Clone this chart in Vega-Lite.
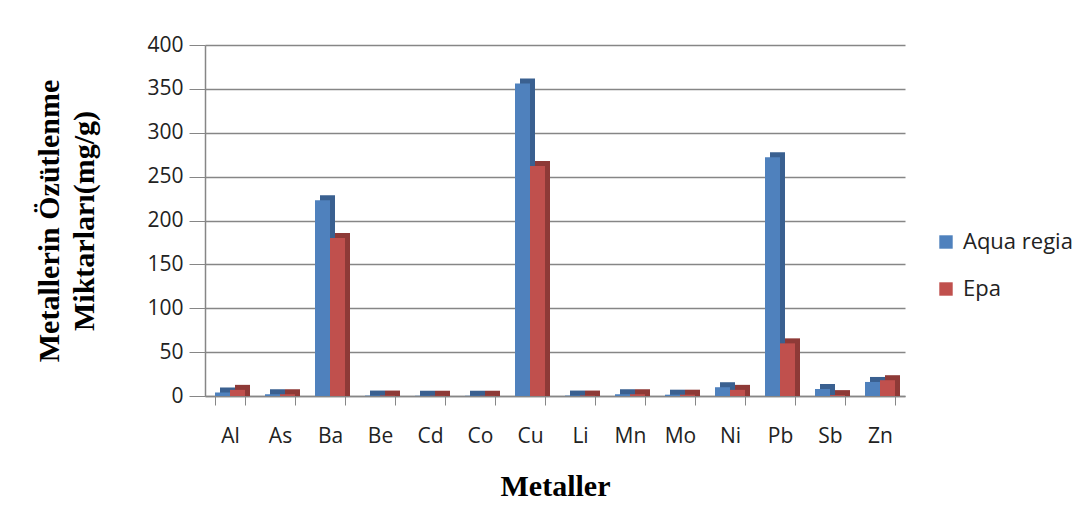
{
  "$schema": "https://vega.github.io/schema/vega-lite/v6.json",
  "width": 700,
  "height": 351,
  "autosize": {"type": "none"},
  "padding": {"left": 205, "top": 45, "right": 183, "bottom": 132},
  "background": "white",
  "config": {
    "view": {"stroke": null},
    "font": "Open Sans"
  },
  "data": {
    "values": [
      {"metal": "Al", "series": "Aqua regia", "value": 4},
      {"metal": "Al", "series": "Epa", "value": 7},
      {"metal": "As", "series": "Aqua regia", "value": 2},
      {"metal": "As", "series": "Epa", "value": 2},
      {"metal": "Ba", "series": "Aqua regia", "value": 223},
      {"metal": "Ba", "series": "Epa", "value": 180},
      {"metal": "Be", "series": "Aqua regia", "value": 0.5},
      {"metal": "Be", "series": "Epa", "value": 0.5},
      {"metal": "Cd", "series": "Aqua regia", "value": 0.3},
      {"metal": "Cd", "series": "Epa", "value": 0.3},
      {"metal": "Co", "series": "Aqua regia", "value": 0.3},
      {"metal": "Co", "series": "Epa", "value": 0.3},
      {"metal": "Cu", "series": "Aqua regia", "value": 356},
      {"metal": "Cu", "series": "Epa", "value": 262},
      {"metal": "Li", "series": "Aqua regia", "value": 0.5},
      {"metal": "Li", "series": "Epa", "value": 0.5},
      {"metal": "Mn", "series": "Aqua regia", "value": 2},
      {"metal": "Mn", "series": "Epa", "value": 2},
      {"metal": "Mo", "series": "Aqua regia", "value": 1.5},
      {"metal": "Mo", "series": "Epa", "value": 1.5},
      {"metal": "Ni", "series": "Aqua regia", "value": 10},
      {"metal": "Ni", "series": "Epa", "value": 7},
      {"metal": "Pb", "series": "Aqua regia", "value": 272},
      {"metal": "Pb", "series": "Epa", "value": 60},
      {"metal": "Sb", "series": "Aqua regia", "value": 8},
      {"metal": "Sb", "series": "Epa", "value": 1},
      {"metal": "Zn", "series": "Aqua regia", "value": 16},
      {"metal": "Zn", "series": "Epa", "value": 18}
    ]
  },
  "encoding": {
    "x": {
      "field": "metal",
      "type": "nominal",
      "sort": null,
      "scale": {"paddingInner": 0.4, "paddingOuter": 0.2},
      "axis": {
        "title": "Metaller",
        "titleFont": "Liberation Serif",
        "titleFontSize": 30,
        "titleFontWeight": "bold",
        "titleColor": "black",
        "titlePadding": 25,
        "labelAngle": 0,
        "labelFont": "Open Sans",
        "labelFontSize": 21,
        "labelColor": "#222",
        "labelPadding": 20,
        "domainColor": "#868686",
        "domainWidth": 1.5,
        "tickColor": "#868686",
        "tickSize": 9,
        "tickBand": "extent"
      }
    },
    "y": {
      "field": "value",
      "type": "quantitative",
      "scale": {"domain": [0, 400]},
      "axis": {
        "title": ["Metallerin Özütlenme", "Miktarları(mg/g)"],
        "titleFont": "Liberation Serif",
        "titleFontSize": 30,
        "titleFontWeight": "bold",
        "titleColor": "black",
        "titleLineHeight": 35,
        "titlePadding": 47,
        "values": [0, 50, 100, 150, 200, 250, 300, 350, 400],
        "labelFont": "Open Sans",
        "labelFontSize": 21,
        "labelColor": "#222",
        "labelPadding": 6,
        "grid": true,
        "gridColor": "#868686",
        "gridWidth": 1.5,
        "domainColor": "#868686",
        "domainWidth": 1.5,
        "tickColor": "#868686",
        "tickSize": 16
      }
    }
  },
  "layer": [
    {
      "mark": {"type": "bar", "yOffset": -5, "y2Offset": 0.001},
      "encoding": {
        "xOffset": {
          "field": "series",
          "type": "nominal",
          "scale": {"range": [5, 35]}
        },
        "y2": {"datum": 0},
        "color": {
          "field": "series",
          "type": "nominal",
          "scale": {"range": ["#3A6090", "#8E3A37"]},
          "legend": null
        }
      }
    },
    {
      "mark": {"type": "bar"},
      "encoding": {
        "xOffset": {"field": "series", "type": "nominal"},
        "fill": {
          "field": "series",
          "type": "nominal",
          "scale": {"range": ["#4F81BD", "#C0504D"]},
          "legend": {
            "title": null,
            "orient": "none",
            "legendX": 730,
            "legendY": 186,
            "symbolType": "square",
            "symbolSize": 180,
            "symbolStrokeWidth": 0,
            "labelFont": "Open Sans",
            "labelFontSize": 22,
            "labelColor": "#222",
            "rowPadding": 25,
            "labelOffset": 6
          }
        }
      }
    }
  ],
  "resolve": {"scale": {"xOffset": "independent", "color": "independent"}}
}
